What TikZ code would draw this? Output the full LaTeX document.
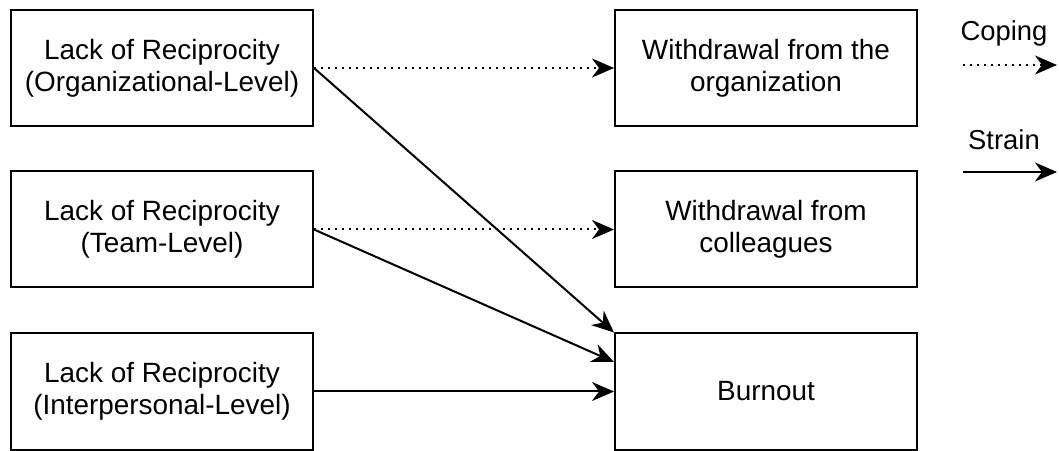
\documentclass[tikz,border=0pt]{standalone}
\usepackage{fontspec}
\setmainfont{Liberation Sans}
\usetikzlibrary{arrows.meta}
\begin{document}
\begin{tikzpicture}[x=1bp,y=-1bp,
  box/.style={draw, line width=2bp, minimum width=302bp, minimum height=116bp,
    inner sep=0pt, align=center, font=\fontsize{28}{32}\selectfont},
  lbl/.style={inner sep=0pt, font=\fontsize{27.5}{31}\selectfont},
  link/.style={line width=2bp, -{Stealth[length=22bp 0,width=19bp 0,inset=7bp 0]}},
  coping/.style={link, dash pattern=on 2bp off 5bp},
  strain/.style={link}]
  \useasboundingbox (0,0) rectangle (1059,451);

  % sources
  \node[box] (org)  at (162,68)    {Lack of Reciprocity\\(Organizational-Level)};
  \node[box] (team) at (162,229.5) {Lack of Reciprocity\\(Team-Level)};
  \node[box] (ip)   at (162,391.5) {Lack of Reciprocity\\(Interpersonal-Level)};

  % outcomes
  \node[box] (worg)  at (766,68)    {Withdrawal from the\\organization};
  \node[box] (wcol)  at (766,229.5) {Withdrawal from\\colleagues};
  \node[box] (burn)  at (766,391.5) {Burnout};

  % coping paths
  \draw[coping] (org.east) -- (worg.west);
  \draw[coping] (team.east) -- (wcol.west);

  % strain paths
  \draw[strain] (org.east) -- (burn.north west);
  \draw[strain] (team.east) -- ([yshift=29.5bp]burn.west);
  \draw[strain] (ip.east) -- (burn.west);

  % legend
  \node[lbl] (lcop) at (1004,33) {Coping};
  \coordinate (c1) at (963,65);
  \coordinate (c2) at (1057,65);
  \draw[coping] (c1) -- (c2);
  \node[lbl] (lstr) at (1004,140) {Strain};
  \coordinate (s1) at (963,172);
  \coordinate (s2) at (1057,172);
  \draw[strain] (s1) -- (s2);
\end{tikzpicture}
\end{document}
